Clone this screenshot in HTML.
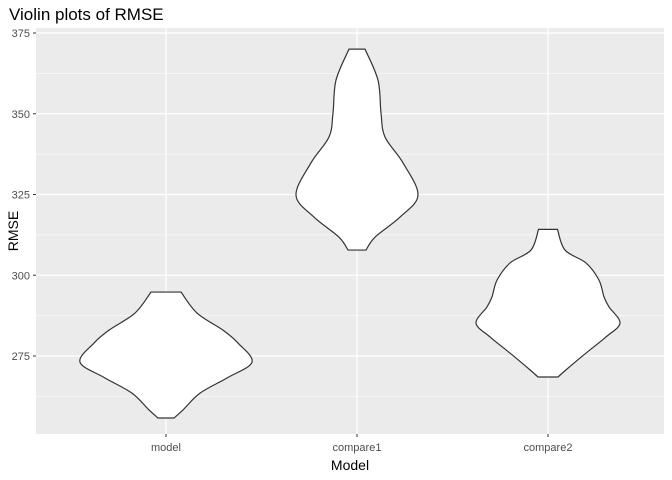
<!DOCTYPE html>
<html><head><meta charset="utf-8"><style>
body{margin:0;background:#fff}
svg{display:block;font-family:"Liberation Sans",Arial,sans-serif}
</style></head><body>
<svg id="c" width="672" height="480">
<text x="9" y="20" font-size="17" fill="#000">Violin plots of RMSE</text>
<rect x="36" y="28" width="628" height="406" fill="#ebebeb"/>
<g id="grid"></g><g id="violins"></g><g id="axes"></g>
<text x="350" y="470" font-size="14" text-anchor="middle">Model</text>
<text transform="translate(18,231) rotate(-90)" font-size="14" text-anchor="middle">RMSE</text>
</svg>
<script>
const categories=["model","compare1","compare2"];
const yTicks=[275,300,325,350,375];
const yMinor=[262.5,287.5,312.5,337.5,362.5];
const modelValues=[294.8,288.3,283.0,279.0,273.1,268.2,263.5,258.3,255.8];
const modelWidths=[15,31,57,72,86,61,34,17,8];
const compare1Values=[370.0,360.4,350.2,342.8,334.8,324.8,318.0,311.8,307.8];
const compare1Widths=[8,21,24,28,46,61,43,18,9];
const compare2Values=[314.2,307.8,303.8,298.5,293.3,290.2,285.2,280.9,275.9,270.7,268.5];
const compare2Widths=[9.5,17,38,51,56,61,72,58,38,18,10];
const seriesValues=[modelValues,compare1Values,compare2Values];
const seriesWidths=[modelWidths,compare1Widths,compare2Widths];
const NS="http://www.w3.org/2000/svg";
const y=v=>356-(v-275)*3.23;
const x=i=>166+i*191;
const w=d=>d;
function mk(t,a,p){const e=document.createElementNS(NS,t);for(const k in a)e.setAttribute(k,a[k]);p.appendChild(e);return e;}
const grid=document.getElementById('grid'),ax=document.getElementById('axes'),vg=document.getElementById('violins');
yMinor.forEach(v=>{const l=mk('line',{x1:36,x2:664,y1:y(v),y2:y(v),stroke:'#fff','stroke-width':0.6},grid);

});
yTicks.forEach(v=>{const l=mk('line',{x1:36,x2:664,y1:y(v),y2:y(v),stroke:'#fff','stroke-width':1.2},grid);


const t=mk('text',{x:30,y:y(v)+4,'font-size':11,fill:'#4d4d4d','text-anchor':'end'},ax);t.textContent=v;


const k=mk('line',{x1:33,x2:36,y1:y(v),y2:y(v),stroke:'#333'},ax);

});
categories.forEach((c,i)=>{const l=mk('line',{x1:x(i),x2:x(i),y1:28,y2:434,stroke:'#fff','stroke-width':1.2},grid);


const k=mk('line',{x1:x(i),x2:x(i),y1:434,y2:437,stroke:'#333'},ax);


const t=mk('text',{x:x(i),y:451,'font-size':11,fill:'#4d4d4d','text-anchor':'middle'},ax);t.textContent=c;

});
function smooth(pts){let d='';for(let i=0;i<pts.length-1;i++){const p0=pts[Math.max(i-1,0)],p1=pts[i],p2=pts[i+1],p3=pts[Math.min(i+2,pts.length-1)];
const c1=[p1[0]+(p2[0]-p0[0])/6,p1[1]+(p2[1]-p0[1])/6],c2=[p2[0]-(p3[0]-p1[0])/6,p2[1]-(p3[1]-p1[1])/6];
d+=` C${c1[0]},${c1[1]} ${c2[0]},${c2[1]} ${p2[0]},${p2[1]}`;}return d;}
categories.forEach((c,i)=>{const vals=seriesValues[i],ws=seriesWidths[i],cx=x(i);
const right=vals.map((v,j)=>[cx+w(ws[j]),y(v)]);
const left=vals.map((v,j)=>[cx-w(ws[j]),y(v)]).reverse();
let d=`M${right[0][0]},${right[0][1]}`+smooth(right)+` L${left[0][0]},${left[0][1]}`+smooth(left)+'Z';
const p=mk('path',{d:d,fill:'#fff',stroke:'#333','stroke-width':1.2},vg);

});
</script>
</body></html>
